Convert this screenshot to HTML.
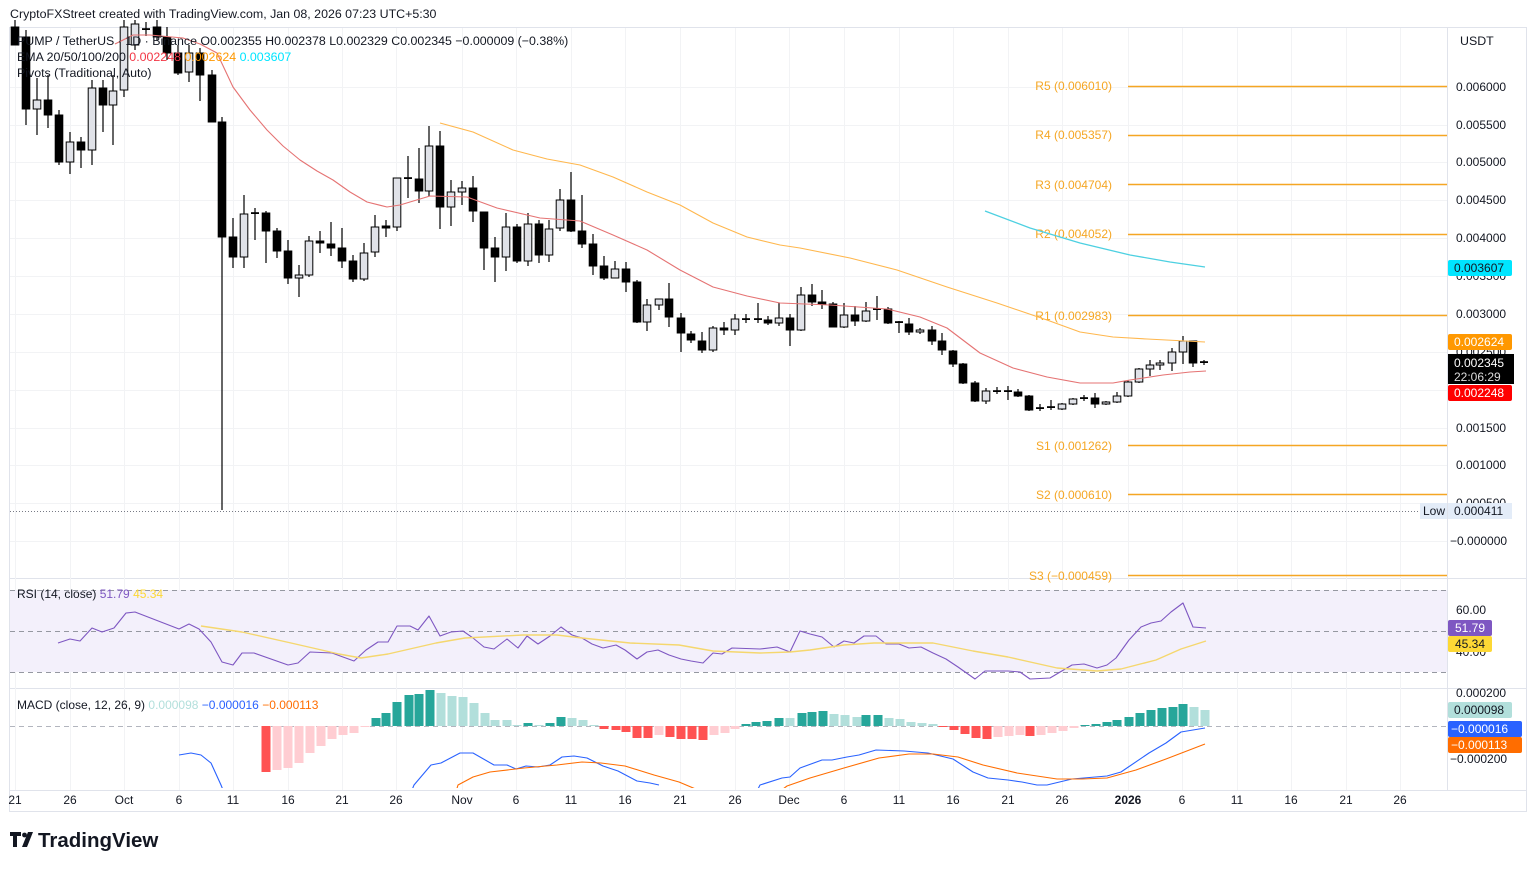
<!DOCTYPE html>
<html><head><meta charset="utf-8">
<style>
html,body{margin:0;padding:0;background:#fff;}
body{width:1536px;height:869px;overflow:hidden;position:relative;font-family:"Liberation Sans",Arial,sans-serif;}
svg{position:absolute;left:0;top:0;}
</style></head>
<body>
<svg id="s" width="1536" height="869" xmlns="http://www.w3.org/2000/svg" font-family="Liberation Sans, Arial, sans-serif">
<defs>
<clipPath id="mc"><rect x="10" y="689" width="1437" height="99"/></clipPath>
<clipPath id="pc"><rect x="10" y="20" width="1437" height="558"/></clipPath>
</defs>
<rect x="0" y="0" width="1536" height="869" fill="#fff"/>
<rect x="9.5" y="27.5" width="1517" height="784" fill="none" stroke="#e0e3eb"/>
<line x1="1447.5" y1="27" x2="1447.5" y2="790" stroke="#e0e3eb"/>
<line x1="10" y1="578.5" x2="1527" y2="578.5" stroke="#e0e3eb"/>
<line x1="10" y1="688.5" x2="1527" y2="688.5" stroke="#e0e3eb"/>
<line x1="10" y1="790.5" x2="1527" y2="790.5" stroke="#e0e3eb"/>
<g id="grid" stroke="#f2f3f5" stroke-width="1"></g>
<rect x="10" y="590" width="1437" height="82" fill="#f3f0fb"/>
<g stroke="#9598a1" stroke-dasharray="5,4" stroke-width="1">
<line x1="10" y1="590.5" x2="1447" y2="590.5"/>
<line x1="10" y1="631.5" x2="1447" y2="631.5"/>
<line x1="10" y1="672.5" x2="1447" y2="672.5"/>
<line x1="10" y1="726.5" x2="1447" y2="726.5" stroke="#b2b5be"/>
</g>
<line x1="10" y1="511.5" x2="1420" y2="511.5" stroke="#787b86" stroke-dasharray="1,2"/>
<g stroke="#f5a623" stroke-width="1.5">
<line x1="1128" y1="86.5" x2="1447" y2="86.5"/>
<line x1="1128" y1="135.5" x2="1447" y2="135.5"/>
<line x1="1128" y1="184.5" x2="1447" y2="184.5"/>
<line x1="1128" y1="234.5" x2="1447" y2="234.5"/>
<line x1="1128" y1="315.5" x2="1447" y2="315.5"/>
<line x1="1128" y1="445.5" x2="1447" y2="445.5"/>
<line x1="1128" y1="494.5" x2="1447" y2="494.5"/>
<line x1="1128" y1="575.5" x2="1447" y2="575.5"/>
</g>
<g fill="#f5a623" font-size="12" text-anchor="end">
<text x="1112" y="90">R5 (0.006010)</text>
<text x="1112" y="139">R4 (0.005357)</text>
<text x="1112" y="189">R3 (0.004704)</text>
<text x="1112" y="238">R2 (0.004052)</text>
<text x="1112" y="320">R1 (0.002983)</text>
<text x="1112" y="450">S1 (0.001262)</text>
<text x="1112" y="499">S2 (0.000610)</text>
<text x="1112" y="580">S3 (−0.000459)</text>
</g>
<g id="cand" clip-path="url(#pc)"></g>
<g id="lines"></g>
<g font-size="12.4" fill="#131722">
<text x="10" y="18">CryptoFXStreet created with TradingView.com, Jan 08, 2026 07:23 UTC+5:30</text>
<text x="17" y="45">PUMP / TetherUS · 1D · Binance  O0.002355  H0.002378  L0.002329  C0.002345  −0.000009 (−0.38%)</text>
<text x="17" y="61">EMA 20/50/100/200 <tspan fill="#f23645">0.002248</tspan> <tspan fill="#ff9800">0.002624</tspan> <tspan fill="#00e5ff">0.003607</tspan></text>
<text x="17" y="77">Pivots (Traditional, Auto)</text>
<text x="17" y="598" font-size="12">RSI (14, close) <tspan fill="#7e57c2">51.79</tspan> <tspan fill="#fdd835">45.34</tspan></text>
<text x="17" y="709" font-size="12">MACD (close, 12, 26, 9) <tspan fill="#b2dfdb">0.000098</tspan> <tspan fill="#2962ff">−0.000016</tspan> <tspan fill="#ff6d00">−0.000113</tspan></text>
<text x="1460" y="45">USDT</text>
</g>
<g font-size="12" fill="#131722">
<text x="1456" y="91">0.006000</text>
<text x="1456" y="129">0.005500</text>
<text x="1456" y="166">0.005000</text>
<text x="1456" y="204">0.004500</text>
<text x="1456" y="242">0.004000</text>
<text x="1456" y="280">0.003500</text>
<text x="1456" y="318">0.003000</text>
<text x="1456" y="356">0.002500</text>
<text x="1456" y="432">0.001500</text>
<text x="1456" y="469">0.001000</text>
<text x="1456" y="507">0.000500</text>
<text x="1450" y="545">−0.000000</text>
<text x="1456" y="614">60.00</text>
<text x="1456" y="656">40.00</text>
<text x="1456" y="697">0.000200</text>
<text x="1450" y="763">−0.000200</text>
</g>
<g font-size="12">
<rect x="1448" y="260" width="64" height="16" rx="2" fill="#00e5ff"/><text x="1454" y="272" fill="#131722">0.003607</text>
<rect x="1448" y="334" width="64" height="16" rx="2" fill="#ff9800"/><text x="1454" y="346" fill="#fff">0.002624</text>
<rect x="1448" y="354" width="66" height="30" fill="#000"/><text x="1454" y="367" fill="#fff">0.002345</text><text x="1454" y="381" fill="#ddd">22:06:29</text>
<rect x="1448" y="385" width="64" height="16" rx="2" fill="#f00"/><text x="1454" y="397" fill="#fff">0.002248</text>
<rect x="1420" y="503" width="27" height="16" fill="#e3ecf8"/><text x="1423" y="515" fill="#131722">Low</text>
<rect x="1448" y="503" width="64" height="16" fill="#e3ecf8"/><text x="1454" y="515" fill="#131722">0.000411</text>
<rect x="1448" y="620" width="44" height="16" rx="2" fill="#7e57c2"/><text x="1455" y="632" fill="#fff">51.79</text>
<rect x="1448" y="636" width="44" height="16" rx="2" fill="#fdd835"/><text x="1455" y="648" fill="#131722">45.34</text>
<rect x="1448" y="702" width="64" height="16" rx="2" fill="#b2dfdb"/><text x="1454" y="714" fill="#131722">0.000098</text>
<rect x="1448" y="721" width="74" height="16" rx="2" fill="#2962ff"/><text x="1451" y="733" fill="#fff">−0.000016</text>
<rect x="1448" y="737" width="74" height="16" rx="2" fill="#ff6d00"/><text x="1451" y="749" fill="#fff">−0.000113</text>
</g>
<g id="time" font-size="12" fill="#131722" text-anchor="middle"></g>
<g>
<path d="M10 832h11v4h-4v11h-4v-11h-3z M22 847l6-15h5l-6 15z" fill="#131722"/>
<circle cx="24.5" cy="835" r="2.4" fill="#131722"/>
<text x="38" y="847" font-size="20.5" font-weight="bold" fill="#131722">TradingView</text>
</g>
</svg>
<script>
var NS="http://www.w3.org/2000/svg";
function el(p,t,a){var e=document.createElementNS(NS,t);for(var k in a)e.setAttribute(k,a[k]);p.appendChild(e);return e;}
var g=document.getElementById('grid');
[87,125,162,200,238,276,314,352,390,428,465,503,541].forEach(function(y){el(g,'line',{x1:10,x2:1447,y1:y+.5,y2:y+.5});});
var tl=[[15,'21'],[70,'26'],[124,'Oct'],[179,'6'],[233,'11'],[288,'16'],[342,'21'],[396,'26'],[462,'Nov'],[516,'6'],[571,'11'],[625,'16'],[680,'21'],[735,'26'],[789,'Dec'],[844,'6'],[899,'11'],[953,'16'],[1008,'21'],[1062,'26'],[1128,'2026'],[1182,'6'],[1237,'11'],[1291,'16'],[1346,'21'],[1400,'26']];
var tg=document.getElementById('time');
tl.forEach(function(t){el(g,'line',{x1:t[0]+.5,x2:t[0]+.5,y1:28,y2:790});var e=el(tg,'text',{x:t[0],y:804});if(t[1]=='2026')e.setAttribute('font-weight','bold');e.textContent=t[1];});
var C=[[15,27,20,45,45],[26,37,30,125,109],[37,109,78,135,100],[48,100,75,128,115],[59,115,110,165,162],[70,162,132,174,142],[81,142,137,168,150],[92,150,80,165,88],[103,88,80,132,105],[113,105,75,145,91],[124,90,18,97,27],[135,45,18,50,24],[146,30,22,36,29],[157,27,20,40,37],[167,37,27,60,53],[178,53,45,75,73],[189,72,45,82,53],[200,53,48,101,75],[212,75,70,122,122],[222,122,117,510,237],[233,237,218,268,257],[244,257,195,268,214],[255,213,208,240,214],[266,213,211,263,231],[277,231,228,258,251],[288,251,240,284,278],[299,278,265,297,275],[309,275,236,277,241],[320,241,231,253,243],[331,244,222,256,248],[342,248,228,268,261],[353,261,255,282,279],[364,279,243,281,253],[375,252,215,257,227],[386,226,220,237,228],[397,227,178,231,178],[408,178,156,198,179],[419,179,148,203,191],[429,191,126,196,146],[440,146,131,229,207],[451,207,180,226,192],[462,192,181,205,188],[473,188,176,222,211],[484,212,212,270,248],[495,248,237,282,257],[506,257,213,271,227],[517,227,224,263,261],[528,261,213,266,224],[539,224,220,263,255],[549,255,220,262,229],[560,228,189,231,200],[571,200,172,232,231],[582,231,195,248,244],[593,244,234,275,266],[604,266,256,280,278],[615,278,261,278,269],[626,269,262,292,282],[637,282,280,323,322],[647,322,299,331,305],[659,305,299,310,299],[669,299,283,327,317],[681,318,313,352,333],[691,334,331,343,340],[702,341,332,353,350],[713,350,326,352,328],[724,328,322,335,330],[735,330,314,335,319],[746,319,314,323,320],[758,319,303,323,320],[768,320,316,325,323],[779,323,303,326,318],[790,318,314,346,330],[801,330,287,331,295],[812,295,284,306,302],[822,302,290,309,304],[833,304,302,327,327],[844,327,303,328,315],[855,315,306,326,321],[866,321,302,322,311],[877,309,296,320,310],[888,309,307,324,323],[899,322,321,333,323],[909,324,318,335,332],[920,332,328,334,330],[932,330,326,345,341],[942,341,333,355,350],[953,351,350,367,364],[963,364,363,384,383],[975,383,381,402,401],[986,401,388,404,391],[997,391,387,394,392],[1008,391,386,400,392],[1018,392,389,397,396],[1029,396,395,411,410],[1040,408,404,411,409],[1051,407,400,410,408],[1062,409,403,410,404],[1073,404,398,405,399],[1084,398,395,401,399],[1095,398,393,408,404],[1106,404,401,405,402],[1117,402,392,403,396],[1128,396,380,397,382],[1139,382,368,383,369],[1150,369,360,376,365],[1160,365,360,370,363],[1172,363,348,371,352],[1183,352,336,364,341],[1193,341,341,367,363],[1204,362,360,365,362.5]];
var cg=document.getElementById('cand');
C.forEach(function(c){var x=c[0],o=c[1],h=c[2],l=c[3],cl=c[4];var bull=cl<o;var top=Math.min(o,cl),bot=Math.max(o,cl);
el(cg,'line',{x1:x,x2:x,y1:h,y2:l,stroke:'#000','stroke-width':1.2});
if(bot-top<1.5){el(cg,'rect',{x:x-4,y:top-0.8,width:8,height:1.8,fill:'#000'});}
else el(cg,'rect',{x:x-3.8,y:top,width:7.6,height:bot-top,fill:bull?'#e0e2e8':'#000',stroke:'#000','stroke-width':1});});
var lg=document.getElementById('lines');
function pl(pts,col,w,clip){var e=el(lg,'polyline',{points:pts,fill:'none',stroke:col,'stroke-width':w||1.2,'stroke-linejoin':'round'});if(clip)e.setAttribute('clip-path','url(#'+clip+')');}
pl("115,44 133,35 150,35 183,38 200,44 217,53 233,87 250,110 267,130 283,146 300,160 317,171 333,180 350,192 367,202 387,207 400,205 430,196 467,197 497,208 540,218 580,221 613,235 647,250 680,270 713,287 747,296 780,303 830,305 887,309 920,317 947,328 980,353 1013,368 1047,377 1080,383 1113,383 1130,380 1163,375 1190,372 1206,371","#e57373",1.1,'pc');
pl("440,123 473,132 513,150 547,159 580,165 613,177 647,192 680,205 713,223 747,237 780,245 800,248 850,258 897,270 947,287 997,303 1047,320 1080,332 1113,337 1147,339 1205,342","#ffb74d",1.1);
pl("985,211 1030,228 1080,243 1130,255 1170,262 1205,267","#4dd0e1",1.3);
pl("58,643 70,639 80,641 92,628 102,632 114,628 126,613 135,612 179,629 189,624 199,629 211,642 222,662 233,665 242,653 254,653 288,665 298,663 310,652 332,653 354,661 366,650 378,642 388,642 397,626 410,626 418,630 429,616 440,636 451,632 463,631 473,638 484,647 494,649 507,639 518,648 527,636 538,644 550,636 561,627 572,635 582,638 592,644 603,648 616,645 625,650 637,659 647,652 658,650 669,655 681,659 691,661 703,663 713,653 722,654 732,648 760,649 777,647 790,652 800,631 810,634 822,637 834,647 844,641 854,643 864,636 876,636 886,644 899,644 909,648 921,647 933,653 946,659 958,667 975,679 985,671 995,671 1008,671 1020,672 1030,679 1050,678 1072,665 1084,664 1097,668 1107,665 1116,658 1129,640 1141,627 1151,623 1161,621 1171,612 1183,603 1193,627 1206,628","#7e57c2",1.1);
pl("201,626 242,632 291,643 339,654 361,658 388,654 436,643 465,638 523,635 557,635 582,638 630,643 679,645 713,651 760,653 790,652 810,650 844,645 874,643 933,643 973,651 1008,657 1057,668 1097,671 1121,669 1156,660 1181,649 1206,641","#f5d76e",1.4);
var DR='#ff5252',PK='#ffcdd2',DT='#26a69a',LT='#b2dfdb';
var H=[[266,772,DR],[277,770,PK],[288,768,PK],[299,763,PK],[310,753,PK],[321,746,PK],[332,739,PK],[343,735,PK],[354,733,PK],[365,727,PK],[376,718,DT],[386,713,DT],[397,702,DT],[409,695,DT],[419,694,DT],[430,690,DT],[441,693,LT],[452,696,LT],[463,697,LT],[474,703,LT],[485,713,LT],[495,720,LT],[507,720,LT],[517,725,LT],[528,723,DT],[539,725,LT],[550,723,DT],[561,717,DT],[572,718,LT],[583,720,LT],[594,725,LT],[604,729,DR],[616,730,DR],[626,732,DR],[637,738,DR],[648,738,DR],[659,735,PK],[670,737,DR],[681,739,DR],[692,739,DR],[703,740,DR],[714,735,PK],[725,733,PK],[735,729,PK],[746,724,DT],[756,722,DT],[767,721,DT],[779,718,DT],[790,718,LT],[802,713,DT],[812,712,DT],[823,711,DT],[834,714,LT],[845,715,LT],[857,717,LT],[866,715,DT],[878,715,DT],[889,718,LT],[900,719,LT],[911,722,LT],[922,723,LT],[933,724,LT],[943,727,DR],[954,730,DR],[965,734,DR],[976,738,DR],[987,739,DR],[998,737,PK],[1009,736,PK],[1020,735,PK],[1030,736,DR],[1041,735,PK],[1052,733,PK],[1063,731,PK],[1074,728,PK],[1085,725,DT],[1096,724,DT],[1107,722,DT],[1117,720,DT],[1129,717,DT],[1140,713,DT],[1151,710,DT],[1162,708,DT],[1173,707,DT],[1183,704,DT],[1194,707,LT],[1205,710,LT]];
H.forEach(function(h){var y0=726,y=h[1];el(lg,'rect',{x:h[0]-4.5,y:Math.min(y,y0),width:9,height:Math.max(1,Math.abs(y-y0)),fill:h[2]});});
pl("179,755 191,753 201,755 211,763 221,785 225,795","#2962ff",1.1,'mc');
pl("410,795 414,785 431,765 441,763 460,753 473,753 494,765 507,765 516,769 526,766 538,767 550,765 562,757 574,756 587,758 603,766 618,771 637,781 650,783 659,785","#2962ff",1.1,'mc');
pl("755,795 760,785 782,778 790,777 800,768 822,760 832,760 847,757 859,755 876,750 904,751 928,753 953,759 973,772 988,778 1008,780 1022,782 1037,785 1047,785 1072,779 1107,776 1121,772 1149,753 1166,743 1181,732 1205,728","#2962ff",1.1,'mc');
pl("455,795 458,785 473,777 490,772 524,768 557,765 582,762 601,763 625,766 654,775 679,782 698,790","#ff6d00",1.1,'mc');
pl("775,795 787,786 810,778 844,768 879,758 909,754 933,754 958,757 983,765 1017,773 1057,779 1082,779 1107,778 1136,770 1166,759 1205,744","#ff6d00",1.1,'mc');
</script>
</body></html>
